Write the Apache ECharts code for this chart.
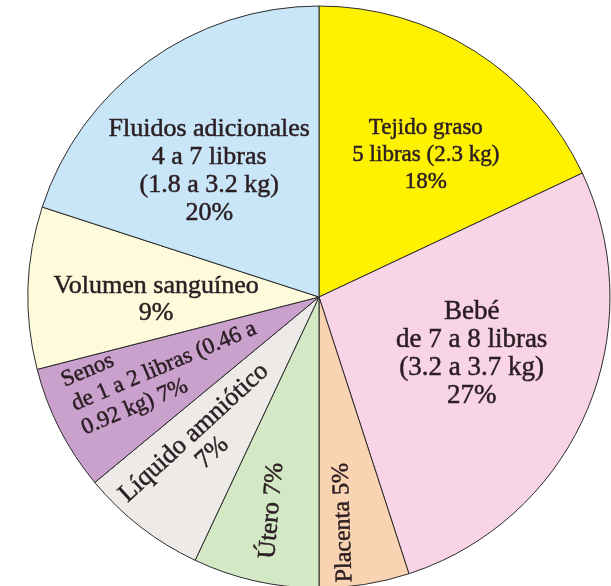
<!DOCTYPE html>
<html><head><meta charset="utf-8">
<script src="https://cdn.jsdelivr.net/npm/echarts@6/dist/echarts.min.js"></script>
<style>html,body{margin:0;padding:0;background:#fff}#c{width:611px;height:586px}</style>
</head><body><div id="c"></div>
<script>
const categories = ['Tejido graso','Bebé','Placenta','Útero','Líquido amniótico','Senos','Volumen sanguíneo','Fluidos adicionales'];
const percentages = [18, 27, 5, 7, 7, 7, 9, 20];
const labelTexts = [
  'Tejido graso\n5 libras (2.3 kg)\n18%',
  'Bebé\nde 7 a 8 libras\n(3.2 a 3.7 kg)\n27%',
  'Placenta 5%',
  'Útero 7%',
  'Líquido amniótico\n7%',
  'Senos\nde 1 a 2 libras (0.46 a\n0.92 kg) 7%',
  'Volumen sanguíneo\n9%',
  'Fluidos adicionales\n4 a 7 libras\n(1.8 a 3.2 kg)\n20%'
];
const colors = ['#FFF200','#F8D4E6','#FAD4B2','#D3E8C4','#EEEAE7','#C9A1CC','#FEFBDC','#C8E6F7'];
// label styles: [angle deg clockwise from top, radius fraction, rotation, align, fontSize, lineHeight]
const labelSpots = [
  [37, 0.61, 0, 'center', 23, 27],
  [110.5, 0.56, 0, 'center', 27, 28],
  [173.9, 0.78, 92, 'center', 24, 27],
  [192.5, 0.752, 85, 'center', 25, 27],
  [218.5, 0.64, 42.5, 'center', 26, 27],
  [246.3, 0.925, 23, 'left', 23, 26],
  [269, 0.56, 0, 'center', 26, 27],
  [319, 0.575, 0, 'center', 26, 28]
];
const CX = 319, CY = 297, R = 291;
const chart = echarts.init(document.getElementById('c'));
chart.setOption({
  animation: false,
  series: [{
    type: 'pie',
    center: [CX, CY],
    radius: [0, R],
    startAngle: 90,
    clockwise: true,
    avoidLabelOverlap: false,
    itemStyle: { borderColor: '#2b2b2b', borderWidth: 1 },
    label: {
      show: true,
      position: 'inside',
      fontFamily: 'Liberation Serif',
      color: '#2a1e22',
      textBorderColor: '#2a1e22',
      textBorderWidth: 0.5,
      formatter: p => labelTexts[p.dataIndex]
    },
    labelLine: { show: false },
    emphasis: { disabled: true },
    data: categories.map((n, i) => ({
      name: n, value: percentages[i],
      itemStyle: { color: colors[i] },
      label: { align: labelSpots[i][3], fontSize: labelSpots[i][4], lineHeight: labelSpots[i][5] }
    }))
  }]
});
chart.setOption({
  series: [{
    labelLayout: function (p) {
      const s = labelSpots[p.dataIndex];
      const a = s[0] * Math.PI / 180;
      const d = s[1] * R;
      return {
        x: CX + d * Math.sin(a),
        y: CY - d * Math.cos(a),
        rotate: s[2],
        align: s[3],
        verticalAlign: 'middle'
      };
    }
  }]
});
</script></body></html>
